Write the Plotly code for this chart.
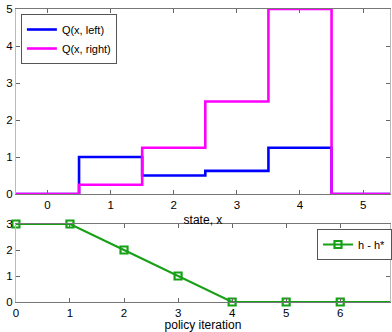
import plotly.graph_objects as go

# Data
states = [0, 1, 2, 3, 4, 5]
q_left = [0, 1, 0.5, 0.625, 1.25, 0]
q_right = [0, 0.25, 1.25, 2.5, 5, 0]
iterations = [0, 1, 2, 3, 4, 5, 6, 7]
h_err = [3, 3, 2, 1, 0, 0, 0, 0]
x_ticks_top = [0, 1, 2, 3, 4, 5]
y_ticks_top = [0, 1, 2, 3, 4, 5]
x_ticks_bot = [0, 1, 2, 3, 4, 5, 6]
y_ticks_bot = [0, 1, 2, 3]

W, H = 392, 332
FONT = "Liberation Sans, Arial, sans-serif"

# pad the step data to the axis edges
xs = [states[0] - 0.5] + states + [states[-1] + 0.5]
ql = [q_left[0]] + q_left + [q_left[-1]]
qr = [q_right[0]] + q_right + [q_right[-1]]

fig = go.Figure()
fig.add_trace(go.Scatter(x=xs, y=ql, mode="lines", line=dict(color="#0000ff", width=2.6, shape="hvh"),
                         name="Q(x, left)", xaxis="x", yaxis="y", legend="legend"))
fig.add_trace(go.Scatter(x=xs, y=qr, mode="lines", line=dict(color="#ff00ff", width=2.6, shape="hvh"),
                         name="Q(x, right)", xaxis="x", yaxis="y", legend="legend"))
fig.add_trace(go.Scatter(x=iterations, y=h_err, mode="lines+markers",
                         line=dict(color="#16a016", width=2),
                         marker=dict(symbol="square-open", size=7, color="#16a016", line=dict(width=2.2, color="#16a016")),
                         name="h - h*", xaxis="x2", yaxis="y2", legend="legend2", cliponaxis=False))

def px_x(p):
    return p / W

def px_y(p):
    return 1 - p / H

axis_common = dict(ticks="inside", ticklen=4, tickcolor="#666666", showgrid=False, zeroline=False,
                   tickfont=dict(family=FONT, size=11.5, color="black"), showline=True, automargin=False)

fig.update_layout(
    template="none",
    width=W, height=H, margin=dict(l=0, r=0, t=0, b=0, pad=0), autosize=False,
    paper_bgcolor="white", plot_bgcolor="white",
    font=dict(family=FONT, size=12, color="black"),
    xaxis=dict(domain=[px_x(16), 1], range=[-0.5, (392 - 48) / 63.4], tickvals=x_ticks_top,
               linecolor="#777777", mirror="ticks", anchor="y",
               title=dict(text="state, x", standoff=5, font=dict(family=FONT, size=12)), **axis_common),
    yaxis=dict(domain=[px_y(194), px_y(9)], range=[0, 5], tickvals=y_ticks_top,
               linecolor="#bbbbbb", mirror="ticks", anchor="x", **axis_common),
    xaxis2=dict(domain=[px_x(16), 1], range=[0, 376 / 54.33], tickvals=x_ticks_bot,
                linecolor="#777777", mirror="ticks", anchor="y2",
                title=dict(text="policy iteration", standoff=5, font=dict(family=FONT, size=12)), **axis_common),
    yaxis2=dict(domain=[px_y(302), px_y(224)], range=[0, 3], tickvals=y_ticks_bot,
                linecolor="#bbbbbb", mirror="ticks", anchor="x2", **axis_common),
    legend=dict(x=px_x(21), y=px_y(14), xanchor="left", yanchor="top", bgcolor="white",
                bordercolor="#555555", borderwidth=1, font=dict(family=FONT, size=11),
                tracegroupgap=0, itemwidth=30),
    legend2=dict(x=px_x(319), y=px_y(229), xanchor="left", yanchor="top", bgcolor="white",
                 bordercolor="#555555", borderwidth=1, font=dict(family=FONT, size=11), itemwidth=30),
)

fig.write_html("out.html", config={"displayModeBar": False},
               post_script="document.body.style.margin='0';document.body.style.overflow='hidden';")
